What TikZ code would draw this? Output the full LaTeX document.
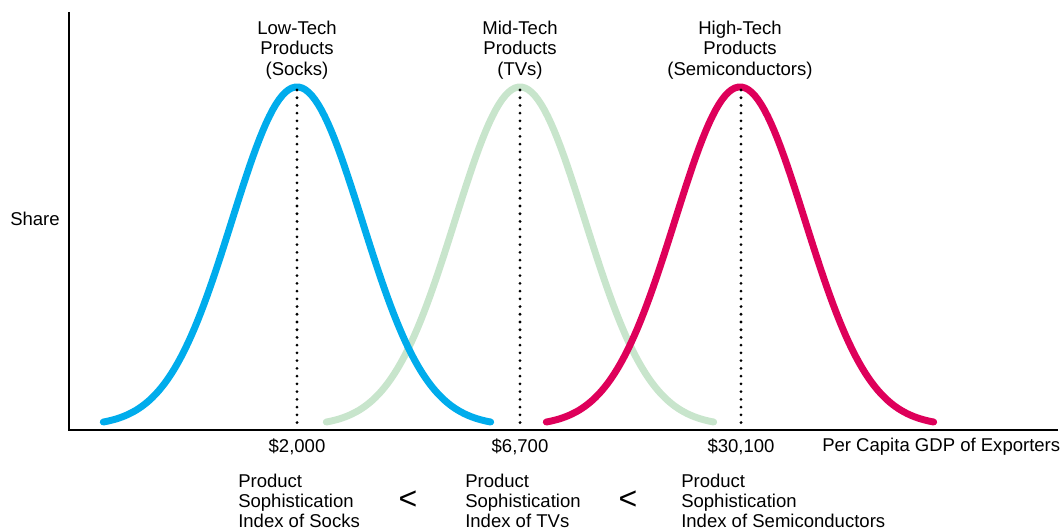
\documentclass[tikz,border=0pt]{standalone}
\usepackage{fontspec}
\setmainfont{Liberation Sans}
\begin{document}
\begin{tikzpicture}[x={(0.75pt,0)},y={(0,-0.75pt)}]
        \tikzstyle{label}=[inner sep=0pt,font=\fontsize{13.9}{15.2}\selectfont]
        \tikzstyle{axis}=[draw=black,line width=1.7pt]
        \tikzstyle{dropline}=[draw=black,line width=2.3pt,line cap=round,dash pattern=on 0pt off 5.8pt]
        \tikzstyle{curve}=[line width=5.2pt,line cap=round]
        \tikzstyle{less}=[inner sep=0pt,font=\fontsize{24}{28}\selectfont]
        \definecolor{lowblue}{RGB}{0,172,236}
        \definecolor{midgreen}{RGB}{200,229,204}
        \definecolor{highred}{RGB}{222,0,90}
        \useasboundingbox (0,0) rectangle (1061,528);
       \begin{scope}
         % axes
         \coordinate (ytop) at (69,12);
         \coordinate (origin) at (69,430);
         \coordinate (xend) at (1058,430);
         \path[axis] (ytop) -- (origin) -- (xend);
         \node [label] (share) at (35,219) {Share};
         \node [label,anchor=west] (xlabel) at (822,447) {Per Capita GDP of Exporters};
         % curves
         \draw[curve,midgreen] plot[domain=-2.98:2.98,samples=120] ({520+65*\x},{426-339*exp(-0.5*\x*\x)});
         \draw[curve,lowblue] plot[domain=-2.98:2.98,samples=120] ({297+65*\x},{426-339*exp(-0.5*\x*\x)});
         \draw[curve,highred] plot[domain=-2.98:2.98,samples=120] ({740+65*\x},{426-339*exp(-0.5*\x*\x)});
         % peaks
         \coordinate (lowpeak) at (297,90);
         \coordinate (lowtick) at (297,429);
         \coordinate (midpeak) at (520,90);
         \coordinate (midtick) at (520,429);
         \coordinate (highpeak) at (741,90);
         \coordinate (hightick) at (741,429);
         \path[dropline] (lowpeak) -- (lowtick);
         \path[dropline] (midpeak) -- (midtick);
         \path[dropline] (highpeak) -- (hightick);
         \node [label,align=center] (low) at (297,50) {Low-Tech\\Products\\(Socks)};
         \node [label,align=center] (mid) at (520,50) {Mid-Tech\\Products\\(TVs)};
         \node [label,align=center] (high) at (740,50) {High-Tech\\Products\\(Semiconductors)};
         \node [label] (lowgdp) at (297,447) {\$2,000};
         \node [label] (midgdp) at (520,447) {\$6,700};
         \node [label] (highgdp) at (741,447) {\$30,100};
         % index
         \node [label,align=left,anchor=west] (lowindex) at (238,501) {Product\\Sophistication\\Index of Socks};
         \node [label,align=left,anchor=west] (midindex) at (465,501) {Product\\Sophistication\\Index of TVs};
         \node [label,align=left,anchor=west] (highindex) at (681,501) {Product\\Sophistication\\Index of Semiconductors};
         \node [less] (lt1) at (408,500) {<};
         \node [less] (lt2) at (628,500) {<};
        \end{scope}
      \end{tikzpicture}
\end{document}
